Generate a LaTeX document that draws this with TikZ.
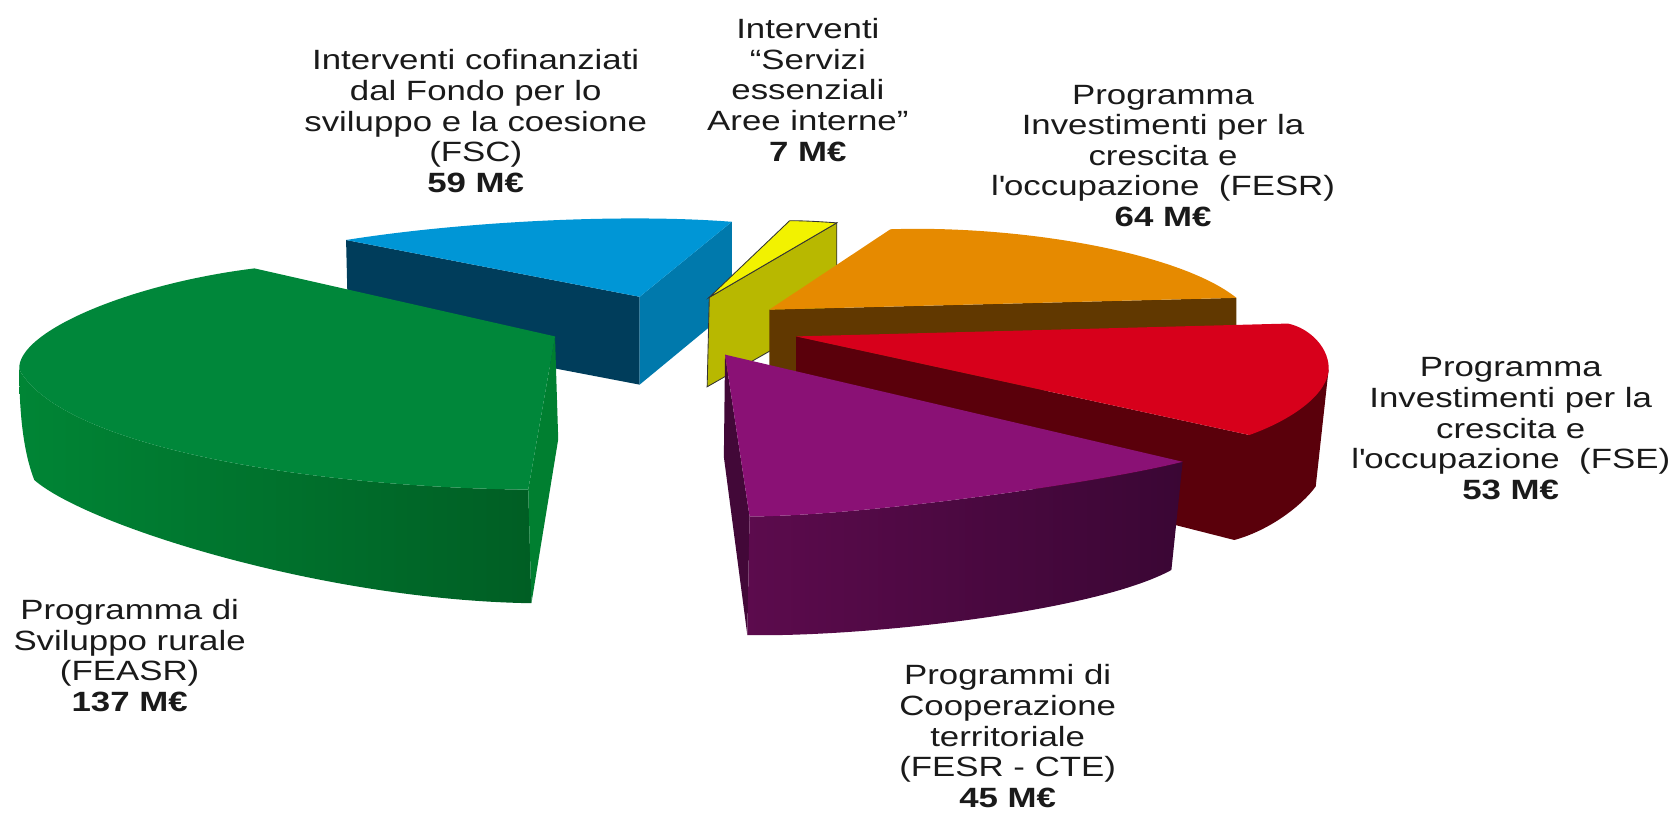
\documentclass[tikz,border=0pt]{standalone}
\usepackage{fontspec}
\setmainfont{Liberation Sans}[FakeStretch=1.25]
\definecolor{bluetop}{HTML}{0096D6}
\definecolor{bluenavy}{HTML}{003D5B}
\definecolor{blueside}{HTML}{0079AC}
\definecolor{greentop}{HTML}{00873A}
\definecolor{greenrimL}{HTML}{008535}
\definecolor{greenrimR}{HTML}{005E24}
\definecolor{greenside}{HTML}{007F30}
\definecolor{yellowtop}{HTML}{F2F200}
\definecolor{yellowside}{HTML}{B8B800}
\definecolor{orangetop}{HTML}{E68A00}
\definecolor{orangeside}{HTML}{613800}
\definecolor{redtop}{HTML}{D7001B}
\definecolor{redside}{HTML}{5A000B}
\definecolor{purpletop}{HTML}{8A1175}
\definecolor{purplerimL}{HTML}{5C0B4D}
\definecolor{purplerimR}{HTML}{3A0634}
\definecolor{purpleside}{HTML}{420838}
\definecolor{txt}{HTML}{1A1A1A}
\begin{document}
\begin{tikzpicture}[x=0.5pt,y=-0.5pt,
  lbl/.style={align=center,text=txt,inner sep=0pt,font=\fontsize{13}{14.25}\selectfont}]
\useasboundingbox (0,0) rectangle (1568,759);
% ---------- blue (FSC)
\fill[bluenavy] (323,224) -- (597,277) -- (597,359) -- (325,307) -- cycle;
\fill[blueside] (683,207) -- (597,277) -- (597,359) -- (683,288) -- cycle;
\fill[bluetop] (323,224) .. controls (430,207) and (580,199) .. (683,207) -- (597,277) -- cycle;
% ---------- yellow (Aree interne)
\filldraw[yellowside,draw=black!80,line width=0.4pt] (662,277.5) -- (781,208) -- (781,292) -- (660,361) -- cycle;
\filldraw[yellowtop,draw=black!80,line width=0.4pt] (662,277.5) -- (737,206) .. controls (752,206) and (767,207) .. (781,208) -- cycle;
% ---------- orange (FESR)
\fill[orangeside] (718,289) -- (1154,278) -- (1154,360) -- (718,371) -- cycle;
\fill[orangetop] (718,289) -- (831,214) .. controls (950,210) and (1100,235) .. (1154,278) -- cycle;
% ---------- red (FSE)
\fill[redside] (743,314) -- (743,400) -- (1152,504) .. controls (1185,495) and (1215,472) .. (1228,454) -- (1240,345) -- (1166,406) -- cycle;
\fill[redtop] (743,314) -- (1202,302) .. controls (1222,306) and (1242,325) .. (1240,347) .. controls (1236,372) and (1200,394) .. (1166,406) -- cycle;
% ---------- green (FEASR)
\shade[left color=greenrimL,right color=greenrimR] (18,345) .. controls (60,420) and (300,455) .. (493,457) -- (496,563) .. controls (300,560) and (80,490) .. (32,448) .. controls (25,430) and (18,400) .. (18,345) -- cycle;
\fill[greenside] (518,314) -- (521,410) -- (496,563) -- (493,457) -- cycle;
\fill[greentop] (237.5,250.5) -- (518,314) -- (493,457) .. controls (300,455) and (60,420) .. (18,345) .. controls (15,310) and (120,265) .. (237.5,250.5) -- cycle;
% ---------- purple (CTE)
\fill[purpleside] (676.7,331) -- (675.6,426.5) -- (697.5,592.7) -- (699.6,482) -- cycle;
\shade[left color=purplerimL,right color=purplerimR] (699.6,482) .. controls (800,482) and (1020,452) .. (1103.8,431) -- (1093.3,532) .. controls (1020,572) and (800,595) .. (697.5,592.7) -- cycle;
\fill[purpletop] (676.7,331) -- (1103.8,431) .. controls (1020,452) and (800,482) .. (699.6,482) -- cycle;
% ---------- labels
\node[lbl] (fsc) at (444,113) {Interventi cofinanziati\\dal Fondo per lo\\sviluppo e la coesione\\(FSC)\\\textbf{59 M€}};
\node[lbl] (aree) at (754,84) {Interventi\\“Servizi\\essenziali\\Aree interne”\\\textbf{7 M€}};
\node[lbl] (fesr) at (1085.5,145.3) {Programma\\Investimenti per la\\crescita e\\l\textquotesingle occupazione~ (FESR)\\\textbf{64 M€}};
\node[lbl] (fse) at (1410,400) {Programma\\Investimenti per la\\crescita e\\l\textquotesingle occupazione~ (FSE)\\\textbf{53 M€}};
\node[lbl] (cte) at (940.5,687) {Programmi di\\Cooperazione\\territoriale\\(FESR - CTE)\\\textbf{45 M€}};
\node[lbl] (feasr) at (121,612) {Programma di\\Sviluppo rurale\\(FEASR)\\\textbf{137 M€}};
\end{tikzpicture}
\end{document}
